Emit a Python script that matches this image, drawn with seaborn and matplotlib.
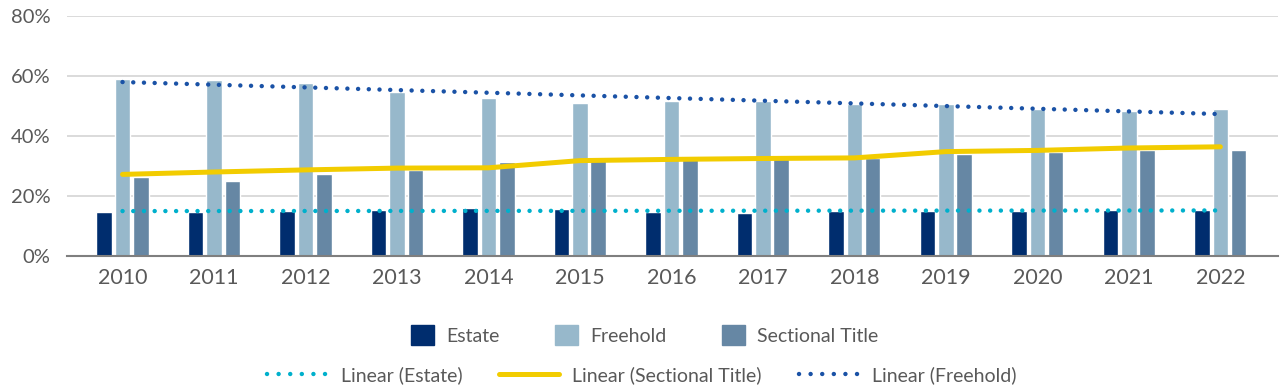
import numpy as np
import pandas as pd
import seaborn as sns
import matplotlib
import matplotlib.pyplot as plt
from matplotlib.patches import Patch
from matplotlib.lines import Line2D
from matplotlib.ticker import FuncFormatter

matplotlib.use('Agg')

# Data (percent)
years = ['2010', '2011', '2012', '2013', '2014', '2015', '2016',
         '2017', '2018', '2019', '2020', '2021', '2022']
estate = [14.6, 14.6, 15.1, 15.4, 15.9, 15.6, 14.8, 14.4, 15.0, 14.9, 15.1, 15.3, 15.3]
freehold = [59.0, 58.6, 57.6, 54.6, 52.7, 51.1, 51.7, 51.7, 50.6, 50.6, 49.0, 48.2, 49.0]
sectional = [26.4, 25.0, 27.2, 28.7, 31.2, 32.5, 33.4, 33.7, 32.6, 34.0, 34.6, 35.3, 35.3]
# yellow "Linear (Sectional Title)" line as drawn
sectional_line = [27.2, 28.0, 28.7, 29.3, 29.4, 31.8, 32.2, 32.5, 32.7, 34.8, 35.2, 36.0, 36.4]

series = ['Estate', 'Freehold', 'Sectional Title']
colors = {'Estate': '#002D6E', 'Freehold': '#97B8CB', 'Sectional Title': '#6687A4'}
c_est_trend = '#00B0CC'
c_free_trend = '#1A52A6'
c_sect_trend = '#F2CC00'
text_col = '#595959'

df = pd.DataFrame({
    'year': years * 3,
    'type': [s for s in series for _ in years],
    'value': estate + freehold + sectional,
})

sns.set_style('white')
plt.rcParams['font.family'] = ['Lato', 'DejaVu Sans']

fig = plt.figure(figsize=(12.8, 3.89), dpi=100)
ax = fig.add_axes([67 / 1280, 133 / 389, 1211 / 1280, 240 / 389])

sns.barplot(data=df, x='year', y='value', hue='type', hue_order=series,
            palette=colors, width=0.6, gap=0.15, legend=False, ax=ax,
            saturation=1, err_kws={'linewidth': 0})

pos = np.arange(len(years))
dot = dict(lw=3.2, ls=(0, (0.01, 2.4)), dash_capstyle='round')
sns.regplot(x=pos, y=np.array(estate), scatter=False, ci=None, ax=ax,
            line_kws=dict(color=c_est_trend, **dot))
sns.regplot(x=pos, y=np.array(freehold), scatter=False, ci=None, ax=ax,
            line_kws=dict(color=c_free_trend, **dot))
sns.lineplot(x=pos, y=sectional_line, color=c_sect_trend, lw=3.6,
             solid_capstyle='round', ax=ax)

ax.set_xlim(-0.607, 12.63)
ax.set_ylim(0, 80)
ax.set_yticks([0, 20, 40, 60, 80])
ax.yaxis.set_major_formatter(FuncFormatter(lambda v, p: f'{v:.0f}%'))
ax.yaxis.grid(True, color='#d4d4d4', lw=1.2)
ax.set_axisbelow(True)
ax.set_xlabel('')
ax.set_ylabel('')
for s in ['top', 'right', 'left']:
    ax.spines[s].set_visible(False)
ax.spines['bottom'].set_color('#7f7f7f')
ax.spines['bottom'].set_linewidth(1.5)
ax.tick_params(axis='y', length=0, pad=12, labelsize=14.5, labelcolor=text_col)
ax.tick_params(axis='x', length=0, pad=9, labelsize=15.5, labelcolor=text_col)

# Legends
h1 = [Patch(facecolor=colors[s], edgecolor=colors[s], label=s) for s in series]
fig.legend(handles=h1, loc='center', bbox_to_anchor=(644.5 / 1280, 1 - 335 / 389),
           ncol=3, frameon=False, fontsize=14, labelcolor=text_col,
           handlelength=1.2, handleheight=1.25, handletextpad=0.62,
           columnspacing=2.85)

h2 = [Line2D([], [], color=c_est_trend, lw=3.2, ls=(0, (0.01, 2.6)),
             dash_capstyle='round', label='Linear (Estate)'),
      Line2D([], [], color=c_sect_trend, lw=3.6, solid_capstyle='round',
             label='Linear (Sectional Title)'),
      Line2D([], [], color=c_free_trend, lw=3.2, ls=(0, (0.01, 2.6)),
             dash_capstyle='round', label='Linear (Freehold)')]
fig.legend(handles=h2, loc='center', bbox_to_anchor=(642 / 1280, 1 - 375 / 389),
           ncol=3, frameon=False, fontsize=14, labelcolor=text_col,
           handlelength=3.1, handletextpad=0.67, columnspacing=1.9)

fig.savefig('out.png', dpi=100)
